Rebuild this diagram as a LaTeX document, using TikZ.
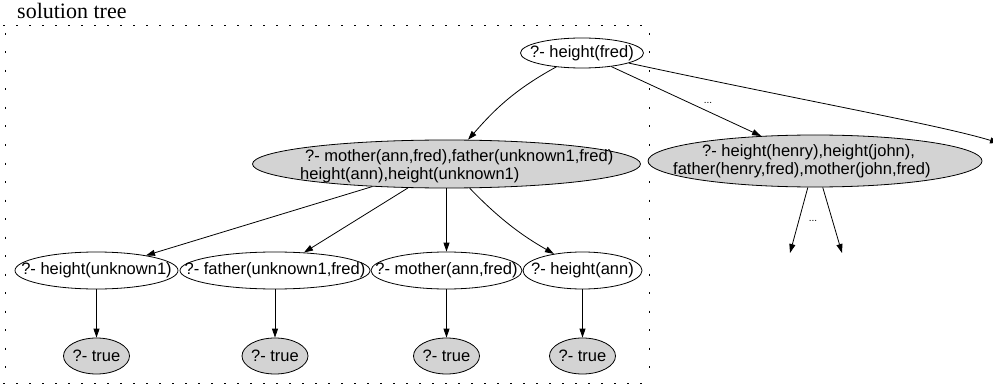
\documentclass[tikz,border=0pt]{standalone}
\usepackage{fontspec}
\setmainfont{Liberation Serif}
\newfontfamily\nodefont{Liberation Sans}
\usetikzlibrary{shapes.geometric,arrows.meta}
\definecolor{gfill}{RGB}{211,211,211}
\newcommand\goaltext[1]{\makebox[0pt]{#1}}
\begin{document}
\begin{tikzpicture}[x=1pt,y=-1pt,
  lbl/.style={font=\nodefont\fontsize{16.5}{18.5}\selectfont},
  goal/.style={ellipse, draw, line width=0.8pt, inner sep=0pt, lbl},
  greygoal/.style={goal, fill=gfill},
  edge/.style={line width=0.8pt, -{Triangle[length=9pt,width=6pt]}},
  elide/.style={font=\nodefont\fontsize{10}{12}\selectfont, inner sep=0pt},
  hframe/.style={line width=0.8pt, dash pattern=on 2pt off 11pt},
  vframe/.style={line width=0.8pt, dash pattern=on 2pt off 16.5pt},
]
\useasboundingbox (0,0) rectangle (993,385);

% cluster frame and label
\draw[hframe] (3,25) -- (645,25);
\draw[hframe] (3,383) -- (645,383);
\draw[vframe] (5,33) -- (5,383);
\draw[vframe] (649,33) -- (649,383);
\node[font=\fontsize{22}{26}\selectfont, anchor=base west, inner sep=0pt] (title) at (17,19) {solution tree};

% nodes
\node[goal, minimum width=123pt, minimum height=30pt] (top) at (582,53) {\goaltext{?- height(fred)}};

\node[greygoal, minimum width=388pt, minimum height=48pt] (mid) at (446.5,164) {};
\node[lbl, anchor=west, align=left, inner sep=0pt] (midtext) at (300,166)
  {\hspace*{5pt}?- mother(ann,fred),father(unknown1,fred)\\height(ann),height(unknown1)};

\node[greygoal, minimum width=334pt, minimum height=52pt] (rg) at (815,161) {};
\node[lbl, anchor=west, align=left, inner sep=0pt] (rgtext) at (673,161)
  {\hspace*{29pt}?- height(henry),height(john),\\father(henry,fred),mother(john,fred)};

\node[goal, minimum width=163pt, minimum height=37pt] (n1) at (96.5,270.5) {\goaltext{?- height(unknown1)}};
\node[goal, minimum width=190pt, minimum height=37pt] (n2) at (275,270.5) {\goaltext{?- father(unknown1,fred)}};
\node[goal, minimum width=151pt, minimum height=37pt] (n3) at (446.5,270.5) {\goaltext{?- mother(ann,fred)}};
\node[goal, minimum width=119pt, minimum height=37pt] (n4) at (582.5,270.5) {\goaltext{?- height(ann)}};

\node[greygoal, minimum width=66pt, minimum height=36pt] (t1) at (96.5,356) {\goaltext{?- true}};
\node[greygoal, minimum width=66pt, minimum height=36pt] (t2) at (275,356) {\goaltext{?- true}};
\node[greygoal, minimum width=66pt, minimum height=36pt] (t3) at (446.5,356) {\goaltext{?- true}};
\node[greygoal, minimum width=66pt, minimum height=36pt] (t4) at (582.5,356) {\goaltext{?- true}};

\coordinate (off) at (999,143);
\coordinate (d1) at (790,253);
\coordinate (d2) at (842,253);

% edges
\draw[edge] (top) .. controls (510,92) and (490,115) .. (mid);
\draw[edge] (top) -- (rg);
\draw[edge] (top) .. controls (800,100) and (940,125) .. (off);
\node[elide] (e1) at (708,103) {...};

\draw[edge] (mid) -- (n1);
\draw[edge] (mid) -- (n2);
\draw[edge] (mid) -- (n3);
\draw[edge] (mid) .. controls (505,225) and (530,240) .. (n4);

\draw[edge] (rg) -- (d1);
\draw[edge] (rg) -- (d2);
\node[elide] (e2) at (813,221) {...};

\draw[edge] (n1) -- (t1);
\draw[edge] (n2) -- (t2);
\draw[edge] (n3) -- (t3);
\draw[edge] (n4) -- (t4);
\end{tikzpicture}
\end{document}
